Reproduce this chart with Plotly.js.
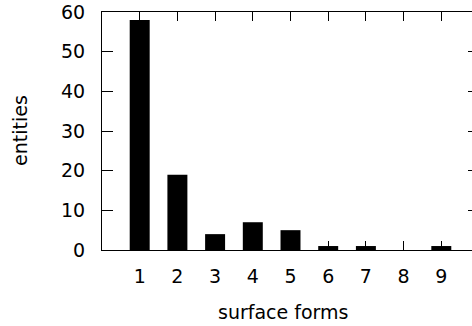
<!DOCTYPE html>
<html>
<head>
<meta charset="utf-8">
<script src="https://cdn.plot.ly/plotly-3.0.1.min.js"></script>
<style>
html,body{margin:0;padding:0;overflow:hidden;background:#fff;width:472px;height:326px;}
#chart{width:480px;height:326px;}
</style>
</head>
<body>
<div id="chart"></div>
<script>
const surfaceForms = [1, 2, 3, 4, 5, 6, 7, 8, 9];
const entities = [58, 19, 4, 7, 5, 1, 1, 0, 1];
const yTicks = [0, 10, 20, 30, 40, 50, 60];
const xTitle = "surface forms";
const yTitle = "entities";

const font = {family: "DejaVu Sans", size: 19, color: "#000"};

Plotly.newPlot("chart", [{
  type: "bar",
  x: surfaceForms,
  y: entities,
  width: 0.53,
  marker: {color: "#000", line: {width: 0}},
  hoverinfo: "none"
}], {
  width: 480,
  height: 326,
  margin: {l: 102, r: 1, t: 12, b: 76},
  paper_bgcolor: "#fff",
  plot_bgcolor: "#fff",
  font: font,
  showlegend: false,
  xaxis: {
    range: [0, 10],
    tickvals: surfaceForms,
    ticks: "inside",
    ticklen: 9,
    tickcolor: "#000",
    tickwidth: 1,
    showline: true,
    linecolor: "#000",
    linewidth: 1,
    mirror: "ticks",
    showgrid: false,
    zeroline: false,
    tickfont: font,
    ticklabelstandoff: 9
  },
  yaxis: {
    range: [0, 60],
    tickvals: yTicks,
    ticks: "inside",
    ticklen: 11,
    tickcolor: "#000",
    tickwidth: 1,
    showline: true,
    linecolor: "#000",
    linewidth: 1,
    mirror: "ticks",
    showgrid: false,
    zeroline: false,
    tickfont: font,
    ticklabelstandoff: 12
  },
  annotations: [
    {text: xTitle, xref: "paper", yref: "paper", x: (283 - 102) / 377, y: -(312 - 250) / 238,
     xanchor: "center", yanchor: "middle", showarrow: false, font: font},
    {text: yTitle, xref: "paper", yref: "paper", x: -(102 - 20) / 377, y: (250 - 131) / 238,
     xanchor: "center", yanchor: "middle", showarrow: false, textangle: -90, font: font}
  ]
}, {staticPlot: true, displayModeBar: false});
</script>
</body>
</html>
